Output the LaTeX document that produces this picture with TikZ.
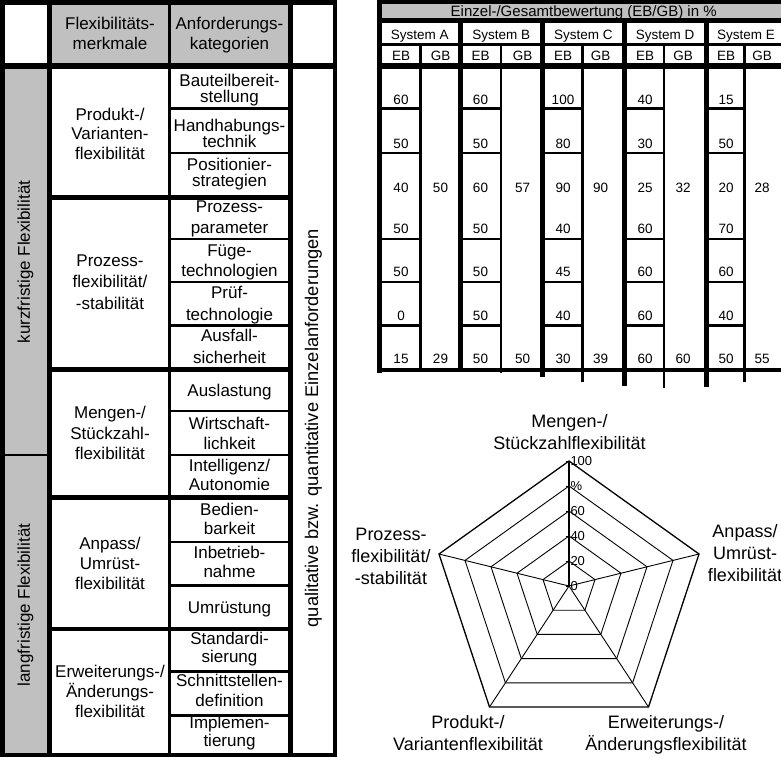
\documentclass[tikz,border=0pt]{standalone}
\usepackage{fontspec}
\setmainfont{Liberation Sans}
\usetikzlibrary{calc}
\definecolor{cellgray}{RGB}{192,192,192}
% invisible struts fixing the first-line height of multi-line cells
\newcommand\capstrut{\rule{0pt}{13pt}}
\newcommand\bigstrut{\rule{0pt}{14pt}}

\begin{document}
\begin{tikzpicture}[x=1pt,y=-1pt,
  tabtext/.style={inner sep=0pt, outer sep=0pt, anchor=north, align=center,
    font=\fontsize{17}{#1}\selectfont},
  sidetext/.style={inner sep=0pt, outer sep=0pt, rotate=90,
    font=\fontsize{17}{20}\selectfont},
  numtext/.style={inner sep=0pt, outer sep=0pt, anchor=base,
    font=\fontsize{13.5}{16}\selectfont},
  radtext/.style={inner sep=0pt, outer sep=0pt, anchor=north, align=center,
    font=\fontsize{18}{21.7}\selectfont},
  ticktext/.style={inner sep=0pt, outer sep=0pt, anchor=west,
    font=\fontsize{13}{15}\selectfont},
  gridline/.style={line width=0.9pt},
]
\useasboundingbox (0,0) rectangle (781,756);
\clip (0,0) rectangle (781,756);

% ---------------- left table: fills ----------------
\fill[cellgray] (2.35,66) rectangle (49.5,755.5);
\fill[cellgray] (49.5,2.35) rectangle (290.8,66);

% ---------------- left table: rules ----------------
\draw[line width=4.7pt] (0,2.35) -- (337.3,2.35);
\draw[line width=4.7pt] (2.35,0) -- (2.35,756);
\draw[line width=5.6pt] (49.5,0) -- (49.5,756);
\draw[line width=2.5pt] (169.5,0) -- (169.5,756);
\draw[line width=5pt] (290.8,0) -- (290.8,756);
\draw[line width=4.6pt] (335,0) -- (335,756);
\draw[line width=6pt] (0,66) -- (337.3,66);
\draw[line width=5pt] (0,755.5) -- (337.3,755.5);
\foreach \y in {197.5,369.3,497.5,629}
  \draw[line width=4.5pt] (49.5,\y) -- (290.8,\y);
\foreach \y in {108.7,153,239,282,325.5,411,455,542,585.3,671.3,715.3}
  \draw[line width=2.5pt] (169.5,\y) -- (290.8,\y);
\draw[line width=2.7pt] (2.35,455) -- (49.5,455);

% ---------------- left table: header ----------------
\node[tabtext=20] (hflex) at (110,16.3) {\capstrut Flexibilitäts-\\merkmale};
\node[tabtext=20] (hanf) at (229.5,16.3) {\capstrut Anforderungs-\\kategorien};

% ---------------- left table: vertical labels ----------------
\node[sidetext] (kurz) at (25.5,262) {kurzfristige Flexibilität};
\node[sidetext] (lang) at (25.5,605) {langfristige Flexibilität};
\node[sidetext, font=\fontsize{18.3}{20}\selectfont] (qual) at (313.5,428)
  {qualitative bzw. quantitative Einzelanforderungen};

% ---------------- left table: flexibility features ----------------
\node[tabtext=19.7] (gprod) at (110,107)   {\capstrut Produkt-/\\Varianten-\\flexibilität};
\node[tabtext=21.5] (gproz) at (110,253)   {\capstrut Prozess-\\flexibilität/\\-stabilität};
\node[tabtext=20.5] (gmeng) at (110,405.5) {\capstrut Mengen-/\\Stückzahl-\\flexibilität};
\node[tabtext=20]   (ganp)  at (110,536)   {\capstrut Anpass/\\Umrüst-\\flexibilität};
\node[tabtext=20.3] (gerw)  at (110,664)   {\capstrut Erweiterungs-/\\Änderungs-\\flexibilität};

% ---------------- left table: requirement categories ----------------
\node[tabtext=16.3] (k1)  at (229.5,73)    {\capstrut Bauteilbereit-\\stellung};
\node[tabtext=16.7] (k2)  at (229.5,118)   {\capstrut Handhabungs-\\technik};
\node[tabtext=16.7] (k3)  at (229.5,157)   {\capstrut Positionier-\\strategien};
\node[tabtext=20.7] (k4)  at (229.5,199.7) {\capstrut Prozess-\\parameter};
\node[tabtext=20]   (k5)  at (229.5,243)   {\capstrut Füge-\\technologien};
\node[tabtext=21.7] (k6)  at (229.5,285.3) {\capstrut Prüf-\\technologie};
\node[tabtext=21.7] (k7)  at (229.5,328.7) {\capstrut Ausfall-\\sicherheit};
\node[tabtext=20]   (k8)  at (229.5,383)   {\capstrut Auslastung};
\node[tabtext=20]   (k9)  at (229.5,416.3) {\capstrut Wirtschaft-\\lichkeit};
\node[tabtext=19]   (k10) at (229.5,458.7) {\capstrut Intelligenz/\\Autonomie};
\node[tabtext=19.3] (k11) at (229.5,502)   {\capstrut Bedien-\\barkeit};
\node[tabtext=19]   (k12) at (229.5,545.3) {\capstrut Inbetrieb-\\nahme};
\node[tabtext=20]   (k13) at (229.5,600.5) {\capstrut Umrüstung};
\node[tabtext=18.7] (k14) at (229.5,631)   {\capstrut Standardi-\\sierung};
\node[tabtext=20]   (k15) at (229.5,673.7) {\capstrut Schnittstellen-\\definition};
\node[tabtext=17.7] (k16) at (229.5,715.3) {\capstrut Implemen-\\tierung};

% ---------------- right table: fills and rules ----------------
\fill[cellgray] (379.5,2) rectangle (790,20.5);
\draw[line width=4pt]   (377.3,2) -- (790,2);
\draw[line width=4.4pt] (377.3,20.5) -- (790,20.5);
\draw[line width=3pt]   (377.3,44.7) -- (790,44.7);
\draw[line width=6pt]   (377.3,66.3) -- (790,66.3);
\draw[line width=3.5pt] (377.3,370) -- (790,370);
\draw[line width=4.5pt] (379.5,0) -- (379.5,373.3);
\foreach \x/\e in {460/368.3,542.5/377.3,624/386,706/386.7}
  \draw[line width=5pt] (\x,20.5) -- (\x,\e);
\foreach \x/\e in {420.5/370.7,501/372.7,582.5/381.7,664/388.3,744.5/381.7}
  \draw[line width=2.4pt] (\x,44.7) -- (\x,\e);
\foreach \x/\m in {379.5/420.5,460/501,542.5/582.5,624/664,706/744.5}
  \foreach \y in {108.7,153,239,282,325.5}
    \draw[line width=2.8pt] (\x,\y) -- (\m+1,\y);

% ---------------- right table: headings ----------------
\node[numtext, font=\fontsize{15}{17}\selectfont] (bew) at (583.7,16.8)
  {Einzel-/Gesamtbewertung (EB/GB) in \%};
\foreach \n/\x/\xe/\xg in {A/419.75/401/440.5,B/501.25/480.5/522.5,C/583.25/563/600.5,
                           D/665/645/683,E/746/726/762}{
  \node[numtext] (sys\n) at (\x,39.5) {System \n};
  \node[numtext] (eb\n) at (\xe,60) {EB};
  \node[numtext] (gb\n) at (\xg,60) {GB};
}

% ---------------- right table: ratings ----------------
\foreach \n/\xe/\xg/\ra/\rb/\rc/\rd/\re/\rf/\rg/\ga/\gb in {
    A/401/440.5/60/50/40/50/50/0/15/50/29,
    B/480.5/522.5/60/50/60/50/50/50/50/57/50,
    C/563/600.5/100/80/90/40/45/40/30/90/39,
    D/645/683/40/30/25/60/60/60/60/32/60,
    E/726/762/15/50/20/70/60/40/50/28/55}{
  \node[numtext] (v\n1) at (\xe,104)   {\ra};
  \node[numtext] (v\n2) at (\xe,148.3) {\rb};
  \node[numtext] (v\n3) at (\xe,192.7) {\rc};
  \node[numtext] (v\n4) at (\xe,233.5) {\rd};
  \node[numtext] (v\n5) at (\xe,276.8) {\re};
  \node[numtext] (v\n6) at (\xe,320)   {\rf};
  \node[numtext] (v\n7) at (\xe,363.5) {\rg};
  \node[numtext] (g\n1) at (\xg,192.7) {\ga};
  \node[numtext] (g\n2) at (\xg,363.5) {\gb};
}

% ---------------- radar chart ----------------
\coordinate (rc)  at (569,586);
\coordinate (rT)  at (569,461);
\coordinate (rR)  at (699,554);
\coordinate (rBR) at (648.5,707);
\coordinate (rBL) at (489.5,707);
\coordinate (rL)  at (439,554);
\foreach \f in {0.2,0.4,0.6,0.8}
  \draw[gridline] ($(rc)!\f!(rT)$) -- ($(rc)!\f!(rR)$) -- ($(rc)!\f!(rBR)$)
    -- ($(rc)!\f!(rBL)$) -- ($(rc)!\f!(rL)$) -- cycle;
\draw[line width=1.3pt, line join=miter] (rT) -- (rR) -- (rBR) -- (rBL) -- (rL) -- cycle;
\foreach \v in {rR,rBR,rBL,rL}
  \draw[gridline] (rc) -- (\v);
\draw[line width=1.2pt] (rc) -- (rT);
\foreach \k in {0,...,5}
  \draw[gridline] (566,586-25*\k) -- (569,586-25*\k);
\foreach \k/\t in {0/0,1/20,2/40,3/60,4/\%,5/100}
  \node[ticktext] (tick\k) at (570.5,586-25*\k) {\t};

\node[radtext] (lmeng) at (569.5,413.7) {\bigstrut Mengen-/\\Stückzahlflexibilität};
\node[radtext] (lproz) at (391,526.7)   {\bigstrut Prozess-\\flexibilität/\\-stabilität};
\node[radtext] (lanp)  at (745,523.7)   {\bigstrut Anpass/\\Umrüst-\\flexibilität};
\node[radtext] (lprod) at (468,714.3)   {\bigstrut Produkt-/\\Variantenflexibilität};
\node[radtext] (lerw)  at (666,714.3)   {\bigstrut Erweiterungs-/\\Änderungsflexibilität};
\end{tikzpicture}
\end{document}
